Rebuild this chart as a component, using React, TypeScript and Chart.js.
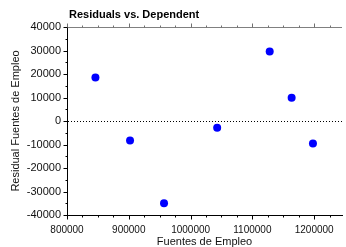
import React, { useEffect, useRef } from 'react';
import { Chart, registerables } from 'chart.js';

Chart.register(...registerables);

const chartTitle = 'Residuals vs. Dependent';
const xTitle = 'Fuentes de Empleo';
const yTitle = 'Residual Fuentes de Empleo';

const xValues = [846000, 902000, 957000, 1043000, 1128000, 1163500, 1198000];
const yValues = [18500, -8300, -35000, -2900, 29600, 9900, -9600];

const xTicks = [800000, 900000, 1000000, 1100000, 1200000];
const yTicks = [-40000, -30000, -20000, -10000, 0, 10000, 20000, 30000, 40000];
const xMin = 800000;
const xMax = 1245000;
const yMin = -40000;
const yMax = 40000;
const xMinorStep = 25000;
const yMinorStep = 5000;

const decorPlugin = {
  id: 'decor',
  beforeDatasetsDraw(chart: any) {
    const { ctx, chartArea, scales } = chart;
    const xs = scales.x;
    const ys = scales.y;
    ctx.save();
    // zero dotted line
    const y0 = Math.round(ys.getPixelForValue(0)) + 0.5;
    ctx.strokeStyle = '#000';
    ctx.lineWidth = 1;
    ctx.setLineDash([1, 2]);
    ctx.beginPath();
    ctx.moveTo(chartArea.left + 1, y0);
    ctx.lineTo(chartArea.right, y0);
    ctx.stroke();
    ctx.setLineDash([]);
    ctx.restore();
  },
  afterDraw(chart: any) {
    const { ctx, chartArea, scales } = chart;
    const xs = scales.x;
    const ys = scales.y;
    ctx.save();
    // top gray line
    const top = Math.round(chartArea.top) + 0.5;
    const bottom = Math.round(chartArea.bottom) + 0.5;
    const left = Math.round(chartArea.left) + 0.5;
    ctx.lineWidth = 1;
    ctx.strokeStyle = '#808080';
    ctx.beginPath();
    ctx.moveTo(chartArea.left, top);
    ctx.lineTo(chartArea.right, top);
    ctx.stroke();
    // x ticks top (gray) and bottom (black)
    for (let v = xMin; v <= xMax; v += xMinorStep) {
      const px = Math.round(xs.getPixelForValue(v)) + 0.5;
      const major = (v - xMin) % 100000 === 0;
      const len = major ? 4 : 2;
      ctx.strokeStyle = '#707070';
      ctx.beginPath();
      ctx.moveTo(px, top);
      ctx.lineTo(px, top - len);
      ctx.stroke();
      ctx.strokeStyle = '#000';
      ctx.beginPath();
      ctx.moveTo(px, bottom);
      ctx.lineTo(px, bottom + len);
      ctx.stroke();
    }
    // y ticks left
    ctx.strokeStyle = '#000';
    for (let v = yMin; v <= yMax; v += yMinorStep) {
      const py = Math.round(ys.getPixelForValue(v)) + 0.5;
      const major = (v - yMin) % 10000 === 0;
      const len = major ? 4 : 2;
      ctx.beginPath();
      ctx.moveTo(left, py);
      ctx.lineTo(left - len, py);
      ctx.stroke();
    }
    // chart title
    ctx.fillStyle = '#000';
    ctx.font = 'bold 11px Arial, "Liberation Sans", sans-serif';
    ctx.textAlign = 'left';
    ctx.textBaseline = 'middle';
    ctx.fillText(chartTitle, chartArea.left + 2, 14.5);
    ctx.restore();
  },
};

export default function App() {
  const canvasRef = useRef<HTMLCanvasElement | null>(null);

  useEffect(() => {
    const canvas = canvasRef.current;
    if (!canvas) return;
    const chart = new Chart(canvas, {
      type: 'scatter',
      data: {
        datasets: [
          {
            data: xValues.map((x, i) => ({ x, y: yValues[i] })),
            backgroundColor: '#0000ff',
            borderColor: '#0000ff',
            borderWidth: 0,
            pointRadius: 4,
            pointHoverRadius: 4,
          },
        ],
      },
      options: {
        responsive: false,
        animation: false,
        devicePixelRatio: 1,
        clip: false,
        layout: { padding: { top: 27, left: 0, right: 0, bottom: 0 } },
        plugins: {
          legend: { display: false },
          title: { display: false },
          tooltip: { enabled: false },
        },
        scales: {
          x: {
            type: 'linear',
            position: 'bottom',
            min: xMin,
            max: xMax,
            grid: { display: false, drawTicks: false },
            border: { display: true, color: '#000', width: 1 },
            afterBuildTicks: (s: any) => {
              s.ticks = xTicks.map((v) => ({ value: v }));
            },
            afterFit: (s: any) => {
              s.height = 32;
            },
            ticks: {
              padding: 9,
              color: '#111',
              font: { family: 'Arial, "Liberation Sans", sans-serif', size: 10 },
              maxRotation: 0,
              autoSkip: false,
              callback: (v: any) => String(v),
            },
            title: {
              display: true,
              text: xTitle,
              color: '#111',
              font: { family: 'Arial, "Liberation Sans", sans-serif', size: 11, lineHeight: 1 },
              padding: { top: 0, bottom: 0 },
            },
          },
          y: {
            type: 'linear',
            position: 'left',
            min: yMin,
            max: yMax,
            grid: { display: false, drawTicks: false },
            border: { display: true, color: '#000', width: 1 },
            afterBuildTicks: (s: any) => {
              s.ticks = yTicks.map((v) => ({ value: v }));
            },
            afterFit: (s: any) => {
              s.width = 67;
            },
            ticks: {
              padding: 6,
              color: '#111',
              font: { family: 'Arial, "Liberation Sans", sans-serif', size: 11 },
              autoSkip: false,
              callback: (v: any) => String(v),
            },
            title: {
              display: true,
              text: yTitle,
              color: '#111',
              font: { family: 'Arial, "Liberation Sans", sans-serif', size: 11, lineHeight: 1 },
              padding: { top: 10, bottom: 0 },
            },
          },
        },
      },
      plugins: [decorPlugin],
    });
    return () => chart.destroy();
  }, []);

  return (
    <div style={{ position: 'fixed', left: 0, top: 0, width: 346, height: 247, background: '#fff' }}>
      <canvas ref={canvasRef} width={346} height={247} style={{ display: 'block' }} />
    </div>
  );
}
